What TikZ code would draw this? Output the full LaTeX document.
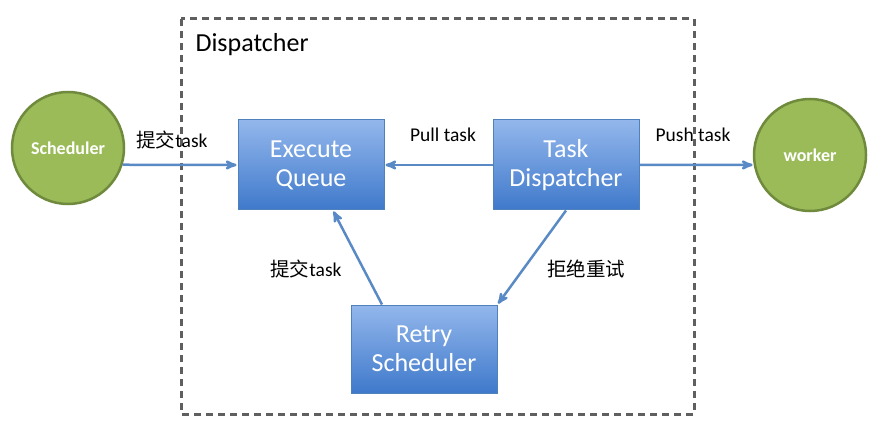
\documentclass[tikz,border=0pt]{standalone}
\usepackage{fontspec}
\setmainfont{Carlito}
\newfontfamily\cjk{Noto Sans CJK SC}
\usetikzlibrary{shapes,arrows,positioning}

\definecolor{boxblue}{HTML}{4F81BD}
\definecolor{boxtop}{HTML}{93B7EC}
\definecolor{boxbot}{HTML}{3F79CB}
\definecolor{flowblue}{HTML}{5A8AC6}
\definecolor{leafgreen}{HTML}{9BBB59}
\definecolor{leafedge}{HTML}{6F8A3C}
\definecolor{framegray}{HTML}{5F5F5F}

\begin{document}
\begin{tikzpicture}[%
    x=1pt, y=-1pt,              % Work in pixels of the original
    >=stealth',                 % Open arrow heads
    ]
% -------------------------------------------------
% Styles for the boxes and the connectors
\tikzset{
  base/.style={align=center, font=\fontsize{26}{29}\selectfont\color{white}},
  queue/.style={base, draw=boxblue, line width=1pt, top color=boxtop,
    bottom color=boxbot, minimum width=146pt, minimum height=90pt},
  actor/.style={circle, draw=leafedge, line width=2.5pt, fill=leafgreen,
    minimum size=112pt, font=\fontsize{18}{21}\selectfont\bfseries\color{white}},
  flow/.style={->, draw=flowblue, line width=2.5pt, shorten >=1pt},
  lbl/.style={font=\fontsize{19.5}{22}\selectfont},
  frame/.style={draw=framegray, line width=3pt, dash pattern=on 7pt off 5pt}
}
\useasboundingbox (0,0) rectangle (882,430);
% -------------------------------------------------
% The dispatcher frame
\draw[frame] (181,19) rectangle (694,414);
\node[anchor=west, font=\fontsize{26}{30}\selectfont] (title) at (192,45) {Dispatcher};
% -------------------------------------------------
% Place the nodes
\node[actor] (sched) at (68,148) {Scheduler};
\node[actor] (worker) at (810,155) {worker};
\node[queue] (exq) at (311,165) {Execute\\Queue};
\node[queue] (tdisp) at (566,165) {Task\\Dispatcher};
\node[queue, minimum height=88pt] (retry) at (424,349) {Retry\\Scheduler};

\draw[flow] (sched.-17) -- (exq.west);	%Scheduler,Execute Queue
\draw[flow] (tdisp.west) -- (exq.east);	%Task Dispatcher,Execute Queue
\draw[flow] (tdisp.east) -- (worker.190);	%Task Dispatcher,worker
\draw[flow] ([xshift=-42pt]retry.north) -- ([xshift=22pt]exq.south);	%Retry,Execute Queue
\draw[flow] (tdisp.south) -- (retry.north east);	%Task Dispatcher,Retry

% Connector labels
\node[lbl] (l1) at (172,140) {{\cjk 提交}task};
\node[lbl] (l2) at (443,135) {Pull task};
\node[lbl] (l3) at (693,135) {Push task};
\node[lbl] (l4) at (306,269) {{\cjk 提交}task};
\node[lbl] (l5) at (586,269) {{\cjk 拒绝重试}};
% -------------------------------------------------
\end{tikzpicture}
\end{document}
